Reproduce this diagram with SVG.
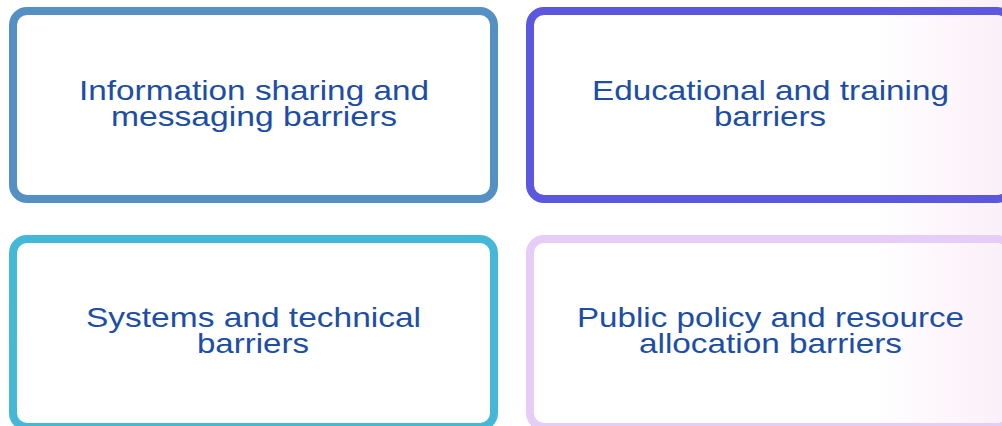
<svg xmlns="http://www.w3.org/2000/svg" width="1002" height="426" viewBox="0 0 1002 426">
  <defs>
    <!-- page background: white, warming to a faint pink at the right edge -->
    <linearGradient id="pageBg" x1="0" y1="0" x2="1002" y2="0" gradientUnits="userSpaceOnUse">
      <stop offset="0.87" stop-color="#ffffff"/>
      <stop offset="1" stop-color="#fbf0f9"/>
    </linearGradient>
  </defs>
  <style>
    .card { fill: none; stroke-width: 8; }
    .label { font-family: "Liberation Sans", Arial, sans-serif; font-size: 28px; fill: #1c4ea7; text-anchor: middle; }
  </style>
  <rect width="1002" height="426" fill="url(#pageBg)"/>

  <g id="node-information">
    <rect class="card" x="13" y="11" width="481" height="188" rx="14" stroke="#5590c4"/>
    <text class="label" x="254" y="100" textLength="350" lengthAdjust="spacingAndGlyphs">Information sharing and</text>
    <text class="label" x="254" y="126" textLength="286" lengthAdjust="spacingAndGlyphs">messaging barriers</text>
  </g>

  <g id="node-education">
    <rect class="card" x="530" y="11" width="481" height="188" rx="14" stroke="#5b57de"/>
    <text class="label" x="770.5" y="100" textLength="357" lengthAdjust="spacingAndGlyphs">Educational and training</text>
    <text class="label" x="770" y="126" textLength="112" lengthAdjust="spacingAndGlyphs">barriers</text>
  </g>

  <g id="node-systems">
    <rect class="card" x="13" y="239" width="481" height="188" rx="14" stroke="#45b8d8"/>
    <text class="label" x="253.5" y="327" textLength="335" lengthAdjust="spacingAndGlyphs">Systems and technical</text>
    <text class="label" x="253" y="353" textLength="112" lengthAdjust="spacingAndGlyphs">barriers</text>
  </g>

  <g id="node-policy">
    <rect class="card" x="530" y="239" width="481" height="188" rx="14" stroke="#e5cdf8"/>
    <text class="label" x="770.5" y="327" textLength="387" lengthAdjust="spacingAndGlyphs">Public policy and resource</text>
    <text class="label" x="770.5" y="353" textLength="263" lengthAdjust="spacingAndGlyphs">allocation barriers</text>
  </g>

  <g id="connectors"></g>
</svg>
